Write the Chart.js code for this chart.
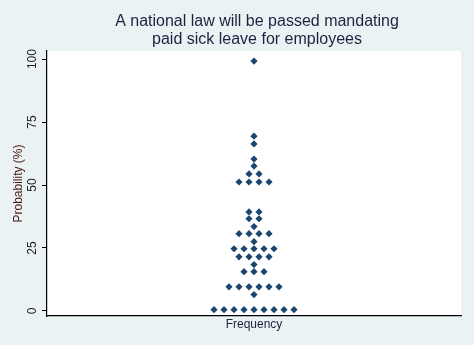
<!DOCTYPE html>
<html>
<head>
<meta charset="utf-8">
<script src="https://cdn.jsdelivr.net/npm/chart.js@4.4.1/dist/chart.umd.min.js"></script>
<style>
  html, body { margin: 0; padding: 0; background: #eaf2f3; }
</style>
</head>
<body>
<canvas id="c" width="474" height="345"></canvas>
<script>
const titleLines = ['A national law will be passed mandating', 'paid sick leave for employees']
const yTitle = 'Probability (%)'
const xTitle = 'Frequency'
const yTickValues = [0, 25, 50, 75, 100]

// dot plot bins: value (probability %) and how many observations fall in it
const binValues = [0.5, 6.5, 9.6, 15.6, 18.4, 21.5, 24.7, 27.5, 30.7, 33.5, 36.6, 39.3, 51.2, 54.4, 57.5, 60.3, 66.3, 69.4, 99.2]
const binCounts = [9, 1, 6, 3, 1, 4, 5, 1, 4, 1, 2, 2, 4, 2, 1, 1, 1, 1, 1]

// spread each bin sideways, one frequency unit per dot, centred on 0
const points = []
binValues.forEach((v, i) => {
  const n = binCounts[i]
  for (let k = 0; k < n; k++) {
    points.push({ x: k - (n - 1) / 2, y: v })
  }
})

const FONT = '"Liberation Sans", Arial, sans-serif'

const stataLook = {
  id: 'stataLook',
  beforeDraw(chart) {
    const { ctx, chartArea: a } = chart
    ctx.save()
    ctx.fillStyle = '#eaf2f3'
    ctx.fillRect(0, 0, chart.width, chart.height)
    ctx.fillStyle = '#ffffff'
    ctx.fillRect(a.left, a.top, a.right - a.left, a.bottom - a.top)
    ctx.restore()
  },
  afterDraw(chart) {
    const { ctx, chartArea: a } = chart
    ctx.save()
    // title
    ctx.fillStyle = '#1c2340'
    ctx.font = '16px ' + FONT
    ctx.textAlign = 'center'
    ctx.textBaseline = 'middle'
    const cx = (a.left + a.right) / 2 + 3
    titleLines.forEach((t, i) => ctx.fillText(t, cx, 22 + i * 18))
    // vertical y tick labels
    const y = chart.scales.y
    ctx.fillStyle = '#222222'
    ctx.font = '12px ' + FONT
    yTickValues.forEach(v => {
      ctx.save()
      ctx.translate(32.5, y.getPixelForValue(v))
      ctx.rotate(-Math.PI / 2)
      ctx.fillText(String(v), 0, 0)
      ctx.restore()
    })
    ctx.restore()
  }
}

const config = {
  type: 'scatter',
  data: {
    datasets: [
      {
        data: points,
        pointStyle: 'rectRot',
        pointRadius: 3.6,
        pointHoverRadius: 3.6,
        backgroundColor: '#1a476f',
        borderWidth: 0
      }
    ]
  },
  options: {
    responsive: false,
    animation: false,
    layout: { padding: { top: 51, right: 13, left: 0, bottom: 0 } },
    plugins: {
      legend: { display: false },
      tooltip: { enabled: false }
    },
    scales: {
      x: {
        type: 'linear',
        min: -20.7,
        max: 20.7,
        grid: { display: false },
        border: { display: true, color: '#000000', width: 1.2 },
        ticks: { display: false },
        title: {
          display: true,
          text: xTitle,
          color: '#1c2340',
          font: { family: FONT, size: 12 },
          padding: { top: 0, bottom: 13 }
        },
        afterFit: s => { s.height = 29 }
      },
      y: {
        type: 'linear',
        min: -2,
        max: 103.2,
        afterBuildTicks: s => { s.ticks = yTickValues.map(v => ({ value: v })) },
        grid: {
          drawOnChartArea: false,
          drawTicks: true,
          tickLength: 5,
          tickColor: '#000000'
        },
        border: { display: true, color: '#000000', width: 1.2 },
        ticks: { display: false },
        title: {
          display: true,
          text: yTitle,
          color: '#4a1414',
          font: { family: FONT, size: 12 },
          padding: { top: 11, bottom: 0 }
        },
        afterFit: s => { s.width = 47 }
      }
    }
  },
  plugins: [stataLook]
}

new Chart(document.getElementById('c'), config)
</script>
</body>
</html>
